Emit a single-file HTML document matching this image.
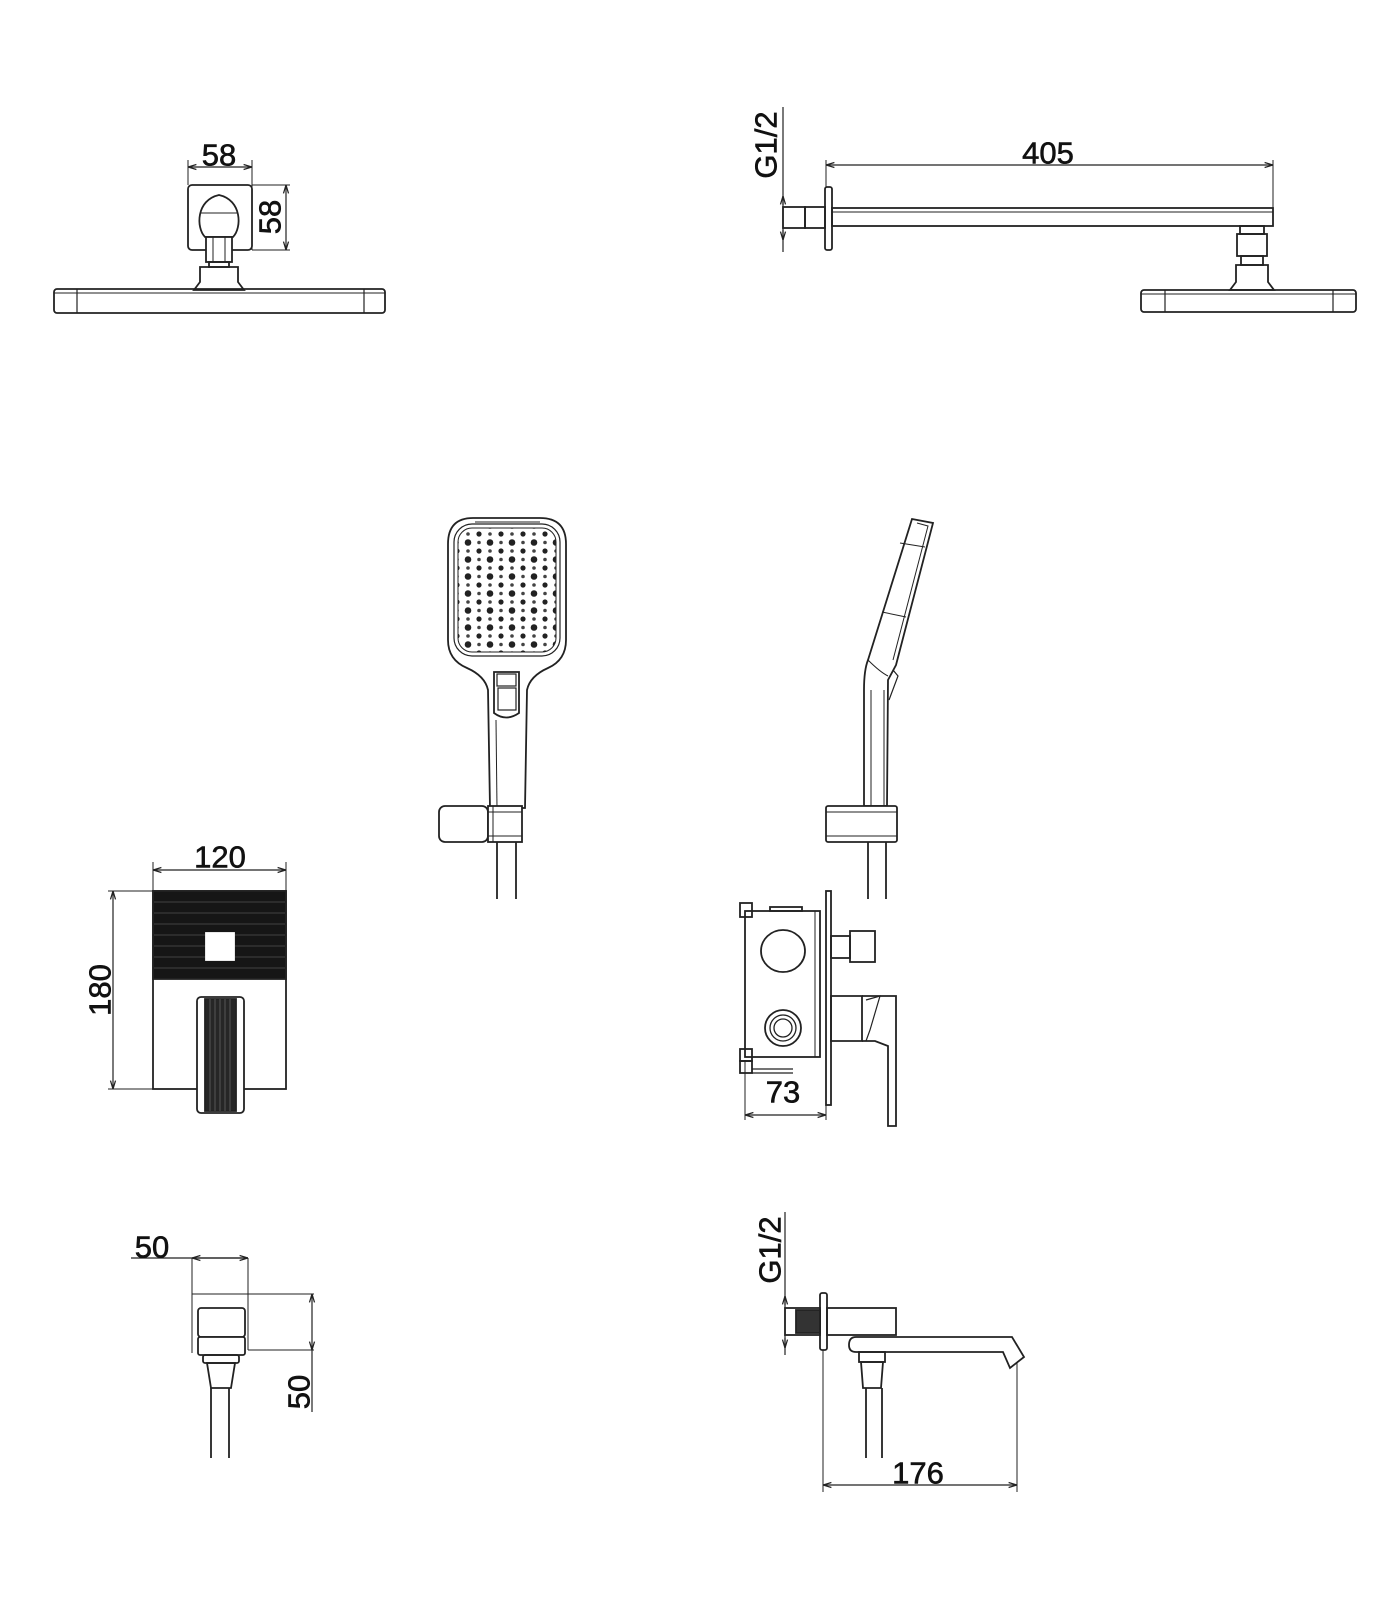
<!DOCTYPE html>
<html><head><meta charset="utf-8"><style>
html,body{margin:0;padding:0;background:#fff;}
svg{display:block}
text{font-family:"Liberation Sans",sans-serif;font-size:31px;fill:#111;stroke:#111;stroke-width:0.6;text-anchor:middle;dominant-baseline:central}
</style></head><body>
<svg width="1400" height="1600" viewBox="0 0 1400 1600" xmlns="http://www.w3.org/2000/svg">
<defs>
<marker id="a" viewBox="0 0 10 10" refX="10" refY="5" markerWidth="7" markerHeight="7" orient="auto-start-reverse"><path d="M0,2 L10,5 L0,8" fill="none" stroke="#222" stroke-width="1.5"/></marker>
<pattern id="holes" x="452" y="530" width="22" height="17" patternUnits="userSpaceOnUse">
<circle cx="5" cy="4" r="2.6" fill="#222"/><circle cx="16" cy="12.5" r="3.3" fill="#222"/><circle cx="16" cy="4" r="1.8" fill="#444"/><circle cx="5" cy="12.5" r="1.8" fill="#444"/>
</pattern>
</defs>
<g fill="none" stroke="#222" stroke-width="1.8">

<!-- TOP LEFT -->
<line x1="188" y1="160" x2="188" y2="185" stroke-width="1"/><line x1="252" y1="160" x2="252" y2="250" stroke-width="1"/>
<line x1="188" y1="167" x2="252" y2="167" stroke-width="1.2" marker-start="url(#a)" marker-end="url(#a)"/>
<rect x="188" y="185" width="64" height="65" rx="4"/>
<line x1="252" y1="185" x2="290" y2="185" stroke-width="1"/><line x1="252" y1="250" x2="290" y2="250" stroke-width="1"/>
<line x1="286" y1="185" x2="286" y2="250" stroke-width="1.2" marker-start="url(#a)" marker-end="url(#a)"/>
<path d="M205,237 C196,228 196,200 219,195 C242,200 242,228 233,237 Z" fill="#fff"/>
<line x1="200" y1="213" x2="238" y2="213" stroke-width="1"/>
<rect x="206" y="237" width="26" height="25" fill="#fff"/><line x1="213" y1="237" x2="213" y2="262" stroke-width="1"/><line x1="225" y1="237" x2="225" y2="262" stroke-width="1"/>
<rect x="209" y="262" width="20" height="5"/>
<path d="M200,267 L238,267 L238,282 L244,290 L194,290 L200,282 Z"/>
<rect x="54" y="289" width="331" height="24" rx="3"/>
<line x1="54" y1="293" x2="385" y2="293" stroke-width="1"/>
<line x1="77" y1="289" x2="77" y2="313" stroke-width="1.2"/><line x1="364" y1="289" x2="364" y2="313" stroke-width="1.2"/>

<!-- TOP RIGHT -->
<line x1="783" y1="107" x2="783" y2="252" stroke-width="1.2"/>
<line x1="783" y1="205" x2="783" y2="196" stroke-width="1.2" marker-end="url(#a)"/>
<line x1="783" y1="230" x2="783" y2="240" stroke-width="1.2" marker-end="url(#a)"/>
<rect x="783" y="207" width="22" height="21"/>
<rect x="805" y="207" width="20" height="21"/>
<rect x="825" y="187" width="7" height="63" rx="2"/>
<line x1="826" y1="160" x2="826" y2="187" stroke-width="1"/><line x1="1273" y1="160" x2="1273" y2="208" stroke-width="1"/>
<line x1="826" y1="165" x2="1273" y2="165" stroke-width="1.2" marker-start="url(#a)" marker-end="url(#a)"/>
<rect x="832" y="208" width="441" height="18"/><line x1="832" y1="212" x2="1273" y2="212" stroke-width="1"/>
<rect x="1240" y="226" width="24" height="8"/><rect x="1237" y="234" width="30" height="22"/><rect x="1241" y="256" width="22" height="9"/>
<path d="M1236,265 L1268,265 L1268,282 L1274,290 L1230,290 L1236,282 Z"/>
<rect x="1141" y="290" width="215" height="22" rx="3"/>
<line x1="1141" y1="294" x2="1356" y2="294" stroke-width="1"/>
<line x1="1165" y1="290" x2="1165" y2="312" stroke-width="1.2"/><line x1="1333" y1="290" x2="1333" y2="312" stroke-width="1.2"/>

<!-- HAND SHOWER FRONT -->
<path d="M473,518 L540,518 Q566,518 566,544 L566,640 Q566,660 548,668 Q530,676 527,690 L525,808 L490,808 L488,690 Q485,676 467,668 Q448,660 448,640 L448,544 Q448,518 473,518 Z" fill="#fff"/>
<rect x="454" y="524" width="106" height="132" rx="18" stroke-width="1.2"/>
<rect x="458" y="528" width="98" height="124" rx="14" fill="url(#holes)" stroke-width="1"/>
<line x1="475" y1="522" x2="540" y2="522" stroke-width="1"/>
<path d="M494,672 L519,672 L519,713 Q506,722 494,713 Z"/>
<rect x="497" y="674" width="19" height="12" stroke-width="1.2"/>
<rect x="498" y="688" width="18" height="22" stroke-width="1.2"/>
<line x1="496" y1="720" x2="497" y2="808" stroke-width="1"/>
<rect x="439" y="806" width="49" height="36" rx="6" fill="#fff"/>
<rect x="488" y="806" width="34" height="36" fill="#fff"/>
<line x1="493" y1="806" x2="493" y2="842" stroke-width="1"/><line x1="488" y1="812" x2="522" y2="812" stroke-width="1"/><line x1="488" y1="836" x2="522" y2="836" stroke-width="1"/>
<line x1="497" y1="842" x2="497" y2="899"/><line x1="516" y1="842" x2="516" y2="899"/>

<!-- HAND SHOWER SIDE -->
<path d="M912,519 L933,523 L896,665 L888,680 L887,806 L864,806 L864,690 Q864,670 868,660 Z" fill="#fff"/>
<path d="M917,523 L928,526 L893,660" stroke-width="1"/>
<line x1="900" y1="543" x2="925" y2="547" stroke-width="1"/>
<line x1="882" y1="612" x2="906" y2="617" stroke-width="1"/>
<path d="M868,660 Q880,672 888,676" stroke-width="1"/>
<path d="M893,670 L898,676 L889,700" stroke-width="1.2"/>
<line x1="871" y1="690" x2="871" y2="806" stroke-width="1"/>
<line x1="884" y1="690" x2="884" y2="806" stroke-width="1"/>
<rect x="826" y="806" width="71" height="36" rx="2" fill="#fff"/>
<line x1="826" y1="812" x2="897" y2="812" stroke-width="1"/><line x1="826" y1="836" x2="897" y2="836" stroke-width="1"/>
<line x1="868" y1="842" x2="868" y2="899"/><line x1="886" y1="842" x2="886" y2="899"/>

<!-- MIXER FRONT -->
<line x1="153" y1="862" x2="153" y2="891" stroke-width="1"/><line x1="286" y1="862" x2="286" y2="891" stroke-width="1"/>
<line x1="153" y1="870" x2="286" y2="870" stroke-width="1.2" marker-start="url(#a)" marker-end="url(#a)"/>
<line x1="108" y1="891" x2="153" y2="891" stroke-width="1"/><line x1="108" y1="1089" x2="153" y2="1089" stroke-width="1"/>
<line x1="113" y1="891" x2="113" y2="1089" stroke-width="1.2" marker-start="url(#a)" marker-end="url(#a)"/>
<rect x="153" y="891" width="133" height="198"/>
<rect x="153" y="891" width="133" height="88" fill="#161616"/>
<g stroke="#3a3a3a" stroke-width="1.3"><line x1="154" y1="902" x2="285" y2="902"/><line x1="154" y1="913" x2="285" y2="913"/><line x1="154" y1="924" x2="285" y2="924"/><line x1="154" y1="935" x2="285" y2="935"/><line x1="154" y1="946" x2="285" y2="946"/><line x1="154" y1="957" x2="285" y2="957"/><line x1="154" y1="968" x2="285" y2="968"/></g>
<rect x="206" y="933" width="28" height="27" fill="#fff" stroke="#fff"/>
<rect x="197" y="997" width="47" height="116" rx="4" fill="#fff"/>
<rect x="205" y="999" width="31" height="112" fill="#262626"/>
<g stroke="#555" stroke-width="1"><line x1="210" y1="999" x2="210" y2="1111"/><line x1="215" y1="999" x2="215" y2="1111"/><line x1="220" y1="999" x2="220" y2="1111"/><line x1="225" y1="999" x2="225" y2="1111"/><line x1="230" y1="999" x2="230" y2="1111"/></g>

<!-- MIXER SIDE -->
<rect x="745" y="911" width="75" height="146"/>
<rect x="740" y="903" width="12" height="14"/>
<rect x="770" y="907" width="32" height="4"/>
<rect x="740" y="1049" width="12" height="12"/><rect x="740" y="1061" width="12" height="12"/>
<line x1="752" y1="1069" x2="793" y2="1069" stroke-width="1.2"/>
<line x1="752" y1="1073" x2="793" y2="1073" stroke-width="1.2"/>
<line x1="815" y1="911" x2="815" y2="1057" stroke-width="1"/>
<rect x="826" y="891" width="5" height="214"/>
<ellipse cx="783" cy="951" rx="22" ry="21"/>
<circle cx="783" cy="1028" r="18"/><circle cx="783" cy="1028" r="13" stroke-width="1.3"/><circle cx="783" cy="1028" r="9" stroke-width="1.3"/>
<rect x="831" y="936" width="19" height="22"/><rect x="850" y="931" width="25" height="31"/>
<path d="M831,996 L862,996 L862,1041 L831,1041 Z"/>
<path d="M862,996 L896,996 L896,1126 L888,1126 L888,1046 L875,1041 L862,1041"/>
<path d="M866,1000 L880,996 L870,1030 L866,1041" stroke-width="1.2"/>
<line x1="745" y1="1060" x2="745" y2="1120" stroke-width="1"/><line x1="826" y1="1105" x2="826" y2="1120" stroke-width="1"/>
<line x1="745" y1="1115" x2="826" y2="1115" stroke-width="1.2" marker-start="url(#a)" marker-end="url(#a)"/>

<!-- BOTTOM LEFT -->
<line x1="131" y1="1258" x2="248" y2="1258" stroke-width="1.2"/>
<line x1="192" y1="1258" x2="248" y2="1258" stroke-width="1.2" marker-start="url(#a)" marker-end="url(#a)"/>
<line x1="192" y1="1258" x2="192" y2="1353" stroke-width="1"/>
<line x1="248" y1="1258" x2="248" y2="1350" stroke-width="1"/>
<line x1="192" y1="1294" x2="314" y2="1294" stroke-width="1"/>
<line x1="248" y1="1350" x2="314" y2="1350" stroke-width="1"/>
<line x1="312" y1="1294" x2="312" y2="1350" stroke-width="1.2" marker-start="url(#a)" marker-end="url(#a)"/>
<line x1="312" y1="1350" x2="312" y2="1412" stroke-width="1.2"/>
<rect x="198" y="1308" width="47" height="29" rx="3" fill="#fff"/>
<rect x="198" y="1337" width="47" height="18" rx="2" fill="#fff"/>
<rect x="203" y="1355" width="36" height="8" rx="2"/>
<path d="M207,1363 L235,1363 L231,1388 L211,1388 Z"/>
<line x1="211" y1="1388" x2="211" y2="1458"/><line x1="229" y1="1388" x2="229" y2="1458"/>

<!-- BOTTOM RIGHT -->
<line x1="785" y1="1212" x2="785" y2="1355" stroke-width="1.2"/>
<line x1="785" y1="1305" x2="785" y2="1296" stroke-width="1.2" marker-end="url(#a)"/>
<line x1="785" y1="1338" x2="785" y2="1348" stroke-width="1.2" marker-end="url(#a)"/>
<rect x="785" y="1308" width="35" height="27"/>
<rect x="796" y="1310" width="24" height="23" fill="#333"/>
<rect x="820" y="1293" width="7" height="57" rx="2"/>
<rect x="827" y="1308" width="69" height="27"/>
<path d="M856,1337 L1012,1337 L1024,1357 L1010,1368 L1003,1352 L856,1352 Q849,1352 849,1345 Q849,1337 856,1337 Z"/>
<rect x="859" y="1352" width="26" height="10"/>
<path d="M861,1362 L883,1362 L881,1388 L863,1388 Z"/>
<line x1="866" y1="1388" x2="866" y2="1458"/><line x1="882" y1="1388" x2="882" y2="1458"/>
<line x1="823" y1="1350" x2="823" y2="1492" stroke-width="1"/><line x1="1017" y1="1362" x2="1017" y2="1492" stroke-width="1"/>
<line x1="823" y1="1485" x2="1017" y2="1485" stroke-width="1.2" marker-start="url(#a)" marker-end="url(#a)"/>
</g>

<text x="219" y="155">58</text>
<text x="0" y="0" transform="translate(270,217) rotate(-90)">58</text>
<text x="0" y="0" transform="translate(766,145) rotate(-90)">G1/2</text>
<text x="1048" y="153">405</text>
<text x="220" y="857">120</text>
<text x="0" y="0" transform="translate(100,990) rotate(-90)">180</text>
<text x="783" y="1092">73</text>
<text x="152" y="1247">50</text>
<text x="0" y="0" transform="translate(299,1392) rotate(-90)">50</text>
<text x="0" y="0" transform="translate(770,1250) rotate(-90)">G1/2</text>
<text x="918" y="1473">176</text>
</svg>
</body></html>
